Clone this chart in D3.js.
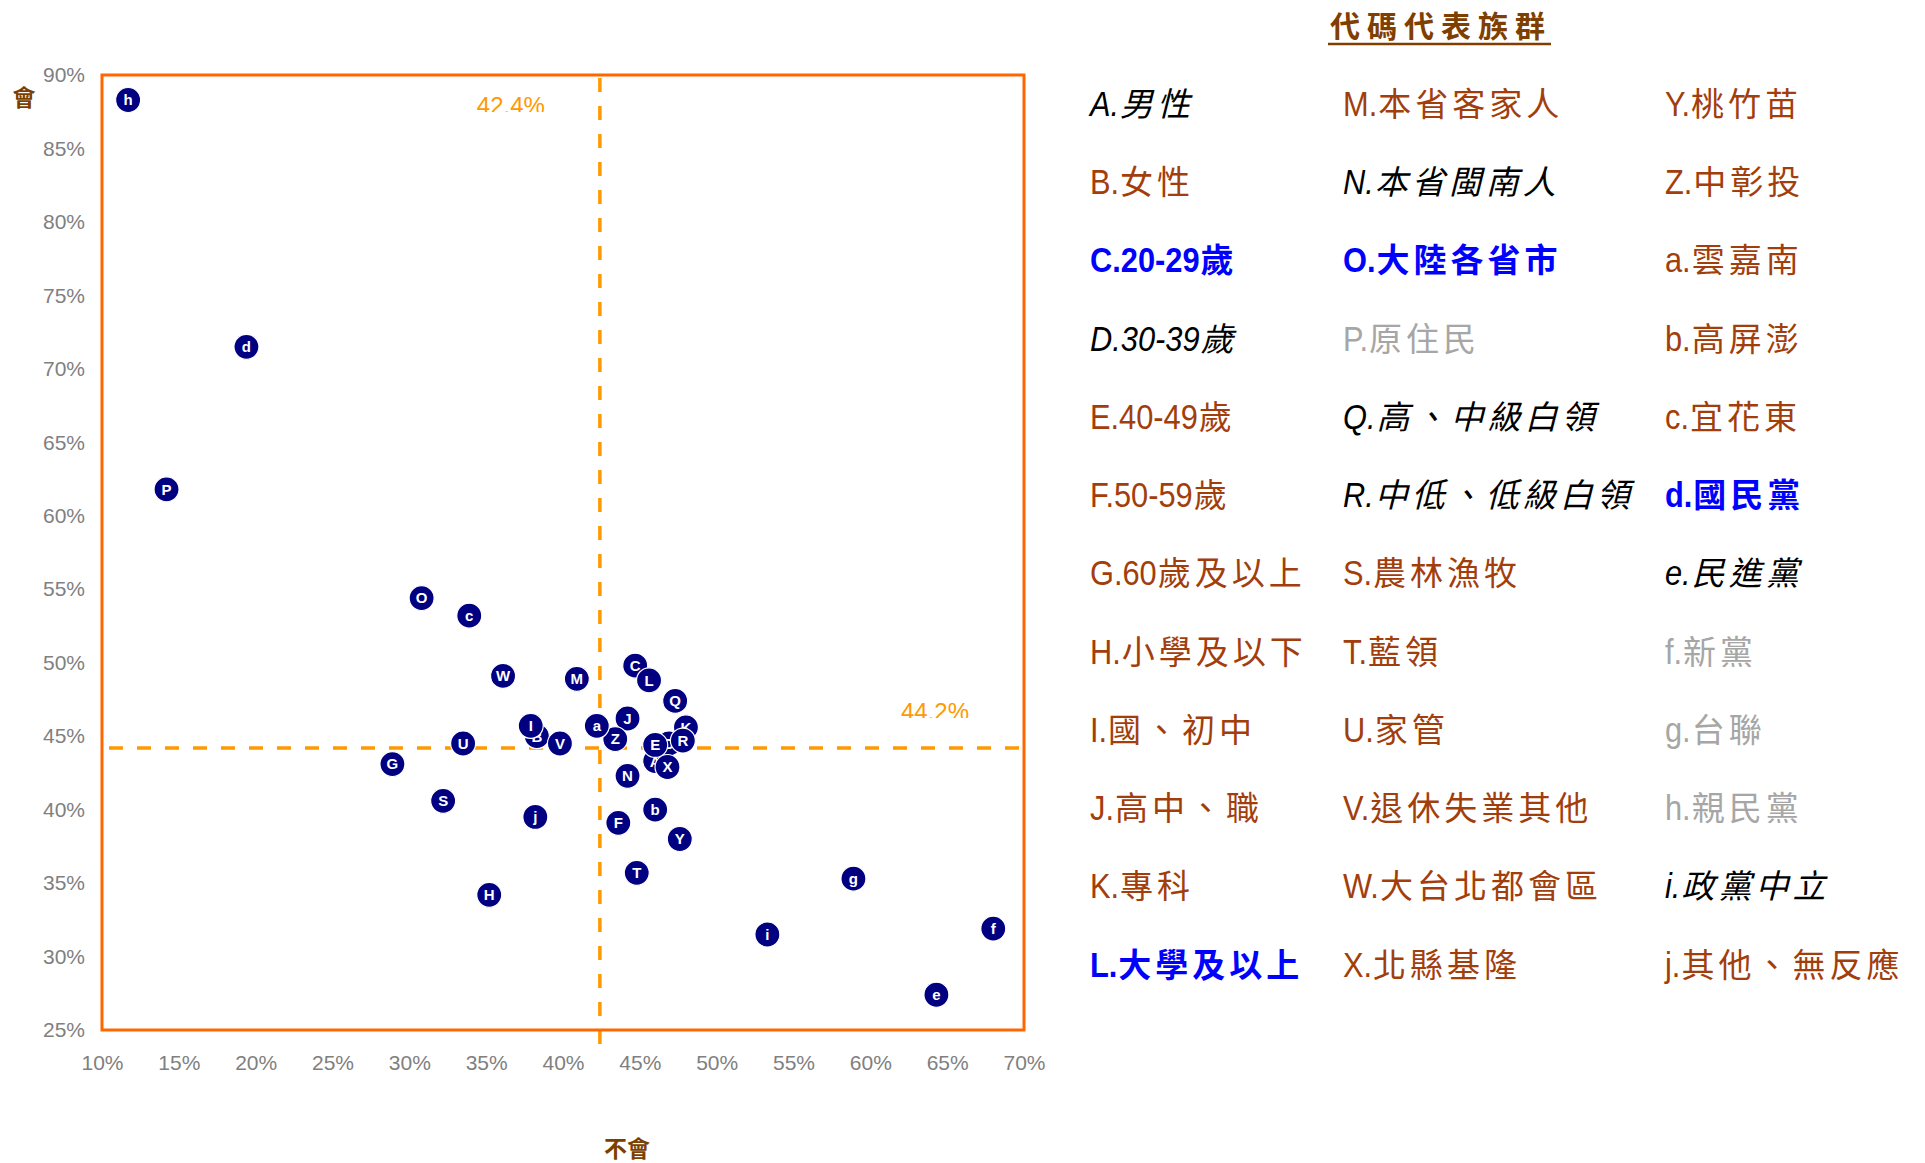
<!DOCTYPE html>
<html>
<head>
<meta charset="utf-8">
<script src="https://cdn.jsdelivr.net/npm/d3@7"></script>
<style>
  body { margin: 0; background: #fff; }
  svg { display: block; }
</style>
</head>
<body>
<div id="chart"></div>
<script>
// --- data ---
const codes = ['A','B','C','D','E','F','G','H','I','J','K','L','M','N','O','P','Q','R',
  'S','T','U','V','W','X','Y','Z','a','b','c','d','e','f','g','h','i','j'];

// x: 不會 share, y: 會 share
const notWill = [0.460,0.383,0.447,0.469,0.460,0.436,0.289,0.352,0.379,0.442,0.480,0.456,
  0.409,0.442,0.308,0.142,0.473,0.478,0.322,0.448,0.335,0.398,0.361,0.468,
  0.476,0.434,0.422,0.460,0.339,0.194,0.643,0.680,0.589,0.117,0.533,0.382];
const will = [0.433,0.450,0.498,0.445,0.444,0.391,0.431,0.342,0.457,0.462,0.456,0.488,
  0.489,0.423,0.544,0.618,0.474,0.447,0.406,0.357,0.445,0.445,0.491,0.429,
  0.380,0.448,0.457,0.400,0.532,0.715,0.274,0.319,0.353,0.883,0.315,0.395];

const xTicks = [0.10,0.15,0.20,0.25,0.30,0.35,0.40,0.45,0.50,0.55,0.60,0.65,0.70];
const yTicks = [0.25,0.30,0.35,0.40,0.45,0.50,0.55,0.60,0.65,0.70,0.75,0.80,0.85,0.90];

const avgNotWill = 0.424;
const avgWill = 0.442;

const legendTitle = '代碼代表族群';
const legendLabels = [
  'A.男性','B.女性','C.20-29歲','D.30-39歲','E.40-49歲','F.50-59歲',
  'G.60歲及以上','H.小學及以下','I.國、初中','J.高中、職','K.專科','L.大學及以上',
  'M.本省客家人','N.本省閩南人','O.大陸各省市','P.原住民','Q.高、中級白領','R.中低、低級白領',
  'S.農林漁牧','T.藍領','U.家管','V.退休失業其他','W.大台北都會區','X.北縣基隆',
  'Y.桃竹苗','Z.中彰投','a.雲嘉南','b.高屏澎','c.宜花東','d.國民黨',
  'e.民進黨','f.新黨','g.台聯','h.親民黨','i.政黨中立','j.其他、無反應'
];
// k = black italic, r = brown, u = blue bold, g = gray
const legendKind = ['k','r','u','k','r','r','r','r','r','r','r','u',
  'r','k','u','g','k','k','r','r','r','r','r','r',
  'r','r','r','r','r','u','k','g','g','g','k','r'];

const kindStyle = {
  k: { fill: '#000', italic: true, bold: false },
  r: { fill: '#A23E0C', italic: false, bold: false },
  u: { fill: '#0000FF', italic: false, bold: true },
  g: { fill: '#A6A6A6', italic: false, bold: false }
};

// --- layout ---
const W = 1925, H = 1163;
const plot = { left: 102, right: 1024, top: 75, bottom: 1030 };
const sansLatin = '"Liberation Sans", Arial, sans-serif';
const sansCJK = '"Noto Sans CJK TC", "Noto Sans CJK SC", sans-serif';

const svg = d3.select('#chart').append('svg')
  .attr('width', W)
  .attr('height', H);

const x = d3.scaleLinear().domain([0.10, 0.70]).range([plot.left, plot.right]);
const y = d3.scaleLinear().domain([0.25, 0.90]).range([plot.bottom, plot.top]);

// axes
const yAxis = svg.append('g')
  .attr('transform', `translate(${plot.left},0)`)
  .call(d3.axisLeft(y).tickValues(yTicks).tickFormat(d3.format('.0%')).tickSize(0).tickPadding(17));
const xAxis = svg.append('g')
  .attr('transform', `translate(0,${plot.bottom})`)
  .call(d3.axisBottom(x).tickValues(xTicks).tickFormat(d3.format('.0%')).tickSize(0).tickPadding(25));

[yAxis, xAxis].forEach(a => {
  a.select('.domain').remove();
  a.selectAll('text')
    .attr('fill', '#808080')
    .style('font-family', sansLatin)
    .style('font-size', '21px');
});

// axis titles
svg.append('text')
  .attr('x', 24).attr('y', 106)
  .attr('text-anchor', 'middle')
  .attr('fill', '#7B3F00')
  .style('font-family', sansCJK)
  .style('font-size', '23px')
  .style('font-weight', 'bold')
  .text('會');

svg.append('text')
  .attr('x', 627).attr('y', 1157)
  .attr('text-anchor', 'middle')
  .attr('fill', '#7B3F00')
  .style('font-family', sansCJK)
  .style('font-size', '23px')
  .style('font-weight', 'bold')
  .text('不會');

// average lines
svg.append('line')
  .attr('x1', x(avgNotWill)).attr('x2', x(avgNotWill))
  .attr('y1', plot.top + 3).attr('y2', plot.bottom + 15)
  .attr('stroke', '#FF9900')
  .attr('stroke-width', 3.5)
  .attr('stroke-dasharray', '14,14');

svg.append('line')
  .attr('x1', plot.left + 7).attr('x2', plot.right - 2)
  .attr('y1', y(avgWill)).attr('y2', y(avgWill))
  .attr('stroke', '#FF9900')
  .attr('stroke-width', 3.5)
  .attr('stroke-dasharray', '14,14');

// plot frame
svg.append('rect')
  .attr('x', plot.left).attr('y', plot.top)
  .attr('width', plot.right - plot.left)
  .attr('height', plot.bottom - plot.top)
  .attr('fill', 'none')
  .attr('stroke', '#FF6600')
  .attr('stroke-width', 3);

// average labels (bottom edge is cut off in the original)
const avgLabels = [
  { text: d3.format('.1%')(avgNotWill), cx: x(avgNotWill) - 89, base: plot.top + 39 },
  { text: d3.format('.1%')(avgWill), cx: plot.right - 89, base: y(avgWill) - 28 }
];
const defs = svg.append('defs');
avgLabels.forEach((d, k) => {
  defs.append('clipPath').attr('id', 'avgclip' + k)
    .append('rect')
    .attr('x', d.cx - 60).attr('y', d.base - 30)
    .attr('width', 120).attr('height', 28);
  svg.append('text')
    .attr('x', d.cx).attr('y', d.base)
    .attr('text-anchor', 'middle')
    .attr('clip-path', `url(#avgclip${k})`)
    .attr('fill', '#FF9900')
    .style('font-family', sansLatin)
    .style('font-size', '24px')
    .text(d.text);
});

// points, each marker followed by its own label
const pts = codes.map((c, k) => ({ code: c, nx: notWill[k], wy: will[k] }));
const pg = svg.append('g').selectAll('g.pt')
  .data(pts)
  .join('g')
  .attr('class', 'pt')
  .attr('transform', d => `translate(${x(d.nx)},${y(d.wy)})`);

pg.append('circle')
  .attr('r', 12.5)
  .attr('fill', '#000080')
  .attr('stroke', '#fff')
  .attr('stroke-width', 1.2);

pg.append('text')
  .attr('text-anchor', 'middle')
  .attr('dy', '0.36em')
  .attr('fill', '#fff')
  .style('font-family', sansLatin)
  .style('font-size', '15px')
  .style('font-weight', 'bold')
  .text(d => d.code);

// legend
const colX = [1090, 1343, 1665];
const rowY0 = 116, rowStep = 78.24;
const latinScale = 0.88;

svg.append('text')
  .attr('x', 1330).attr('y', 37)
  .attr('fill', '#7F3F00')
  .style('font-family', sansCJK)
  .style('font-size', '30px')
  .style('font-weight', 'bold')
  .style('letter-spacing', '7px')
  .text(legendTitle);
svg.append('line')
  .attr('x1', 1328).attr('x2', 1551)
  .attr('y1', 44).attr('y2', 44)
  .attr('stroke', '#7F3F00')
  .attr('stroke-width', 2.5);

legendLabels.forEach((label, k) => {
  const col = Math.floor(k / 12), row = k % 12;
  const st = kindStyle[legendKind[k]];
  const prefix = label.match(/^[\x00-\x7F]+/)[0];
  const rest = label.slice(prefix.length);
  const g = svg.append('g')
    .attr('transform', `translate(${colX[col]},${rowY0 + row * rowStep})`);

  const lat = g.append('text')
    .attr('transform', `scale(${latinScale},1)`)
    .attr('fill', st.fill)
    .style('font-family', sansLatin)
    .style('font-size', '35px')
    .style('font-style', st.italic ? 'italic' : 'normal')
    .style('font-weight', st.bold ? 'bold' : 'normal')
    .text(prefix);
  const w = lat.node().getComputedTextLength() * latinScale;

  g.append('text')
    .attr('x', w + 1)
    .attr('fill', st.fill)
    .style('font-family', sansCJK)
    .style('font-size', '33px')
    .style('letter-spacing', '4px')
    .style('font-style', st.italic ? 'italic' : 'normal')
    .style('font-weight', st.bold ? 'bold' : 'normal')
    .text(rest);
});
</script>
</body>
</html>
